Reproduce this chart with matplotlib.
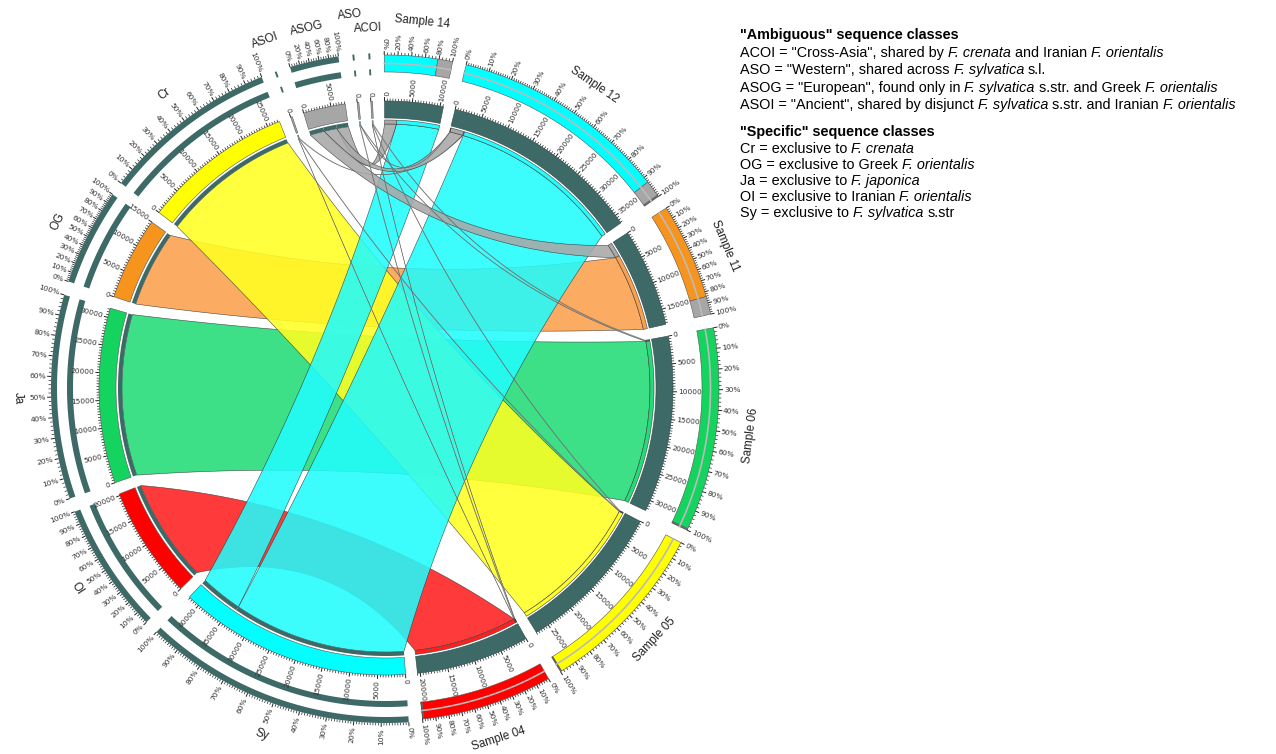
import numpy as np
import matplotlib
matplotlib.use('Agg')
import matplotlib.pyplot as plt
from matplotlib.collections import LineCollection

plt.rcParams['font.family'] = ['Liberation Sans', 'DejaVu Sans']

# --- data -------------------------------------------------------------
classes = ['Sy', 'OI', 'Ja', 'OG', 'Cr', 'ASOI', 'ASOG', 'ASO', 'ACOI']
samples = ['Sample 14', 'Sample 12', 'Sample 11', 'Sample 06', 'Sample 05', 'Sample 04']
# reads of each sequence class (rows) found in each sample (columns)
counts = np.array([
    [8300, 33900, 0, 0, 0, 0],        # Sy
    [0, 0, 0, 0, 0, 20300],           # OI
    [0, 0, 0, 31700, 0, 0],           # Ja
    [0, 0, 15000, 0, 0, 0],           # OG
    [0, 0, 0, 0, 27300, 0],           # Cr
    [0, 150, 0, 0, 100, 50],          # ASOI
    [2300, 2500, 2800, 0, 0, 0],      # ASOG
    [0, 100, 0, 100, 0, 100],         # ASO
    [0, 0, 0, 150, 100, 50],          # ACOI
])

band_colors = {'Sy': '#00ffff', 'OI': '#ff0000', 'Ja': '#14d35f', 'OG': '#f7941d',
               'Cr': '#ffff00'}
ribbon_colors = {'Sy': '#22fcfc', 'OI': '#ff1f1f', 'Ja': '#22dc76', 'OG': '#fba04c',
                 'Cr': '#ffff22'}
AMB_BAND = '#a6a6a6'
AMB_RIB = '#a8a8a8'
DARK = '#3d6966'

# *...* marks italic parts, headers are bold
legend_lines = [
    ('"Ambiguous" sequence classes', True),
    ('ACOI = "Cross-Asia", shared by *F. crenata* and Iranian *F. orientalis*', False),
    ('ASO = "Western", shared across *F. sylvatica* s.l.', False),
    ('ASOG = "European", found only in *F. sylvatica* s.str. and Greek *F. orientalis*', False),
    ('ASOI = "Ancient", shared by disjunct *F. sylvatica* s.str. and Iranian *F. orientalis*', False),
    ('"Specific" sequence classes', True),
    ('Cr = exclusive to *F. crenata*', False),
    ('OG = exclusive to Greek *F. orientalis*', False),
    ('Ja = exclusive to *F. japonica*', False),
    ('OI = exclusive to Iranian *F. orientalis*', False),
    ('Sy = exclusive to *F. sylvatica* s.str', False),
]
legend_y = [35, 53, 70, 88, 105, 132, 149, 165, 181, 197, 213]

# --- layout -----------------------------------------------------------
cx, cy = 386, 388
R_RIB = 264
R_STRIP = (264, 268)
R_BAND = (270, 287)
R_RING1 = (313, 319)
R_RING2 = (329, 335)
R_PCT = (316, 333)
R_NAME = 368
name_r_shift = {'ASO': 7, 'ACOI': -8}
GAP = 2.4
START = -0.3

order = samples + classes
sizes = list(counts.sum(axis=0)) + list(counts.sum(axis=1))
deg_per = (360 - GAP * len(order)) / float(sum(sizes))
seg = {}
t = START
for name, s in zip(order, sizes):
    seg[name] = (t, t + s * deg_per, s)
    t += s * deg_per + GAP


def xy(theta, r):
    a = np.radians(theta)
    return cx + r * np.sin(a), cy - r * np.cos(a)


fig = plt.figure(figsize=(12.76, 7.54), dpi=100)
ax = fig.add_axes([0, 0, 1, 1])
ax.set_xlim(0, 1276)
ax.set_ylim(754, 0)
ax.axis('off')


def sector(t1, t2, r1, r2, **kw):
    n = max(int(abs(t2 - t1) * 4), 2)
    th = np.linspace(t1, t2, n)
    xo, yo = xy(th, r2)
    xi, yi = xy(th[::-1], r1)
    ax.fill(np.concatenate([xo, xi]), np.concatenate([yo, yi]), **kw)


def bezier(p0, p2, k=0.7, n=80):
    mx, my = (p0[0] + p2[0]) / 2, (p0[1] + p2[1]) / 2
    c = (cx + k * (mx - cx), cy + k * (my - cy))
    s = np.linspace(0, 1, n)
    x = (1 - s) ** 2 * p0[0] + 2 * (1 - s) * s * c[0] + s ** 2 * p2[0]
    y = (1 - s) ** 2 * p0[1] + 2 * (1 - s) * s * c[1] + s ** 2 * p2[1]
    return x, y


# ribbon end positions: samples list classes in reverse, classes list samples in reverse
cls_pos = {}
for i, c in enumerate(classes):
    t = seg[c][0]
    for j in reversed(range(len(samples))):
        w = counts[i, j] * deg_per
        if w > 0:
            cls_pos[(i, j)] = (t, t + w)
            t += w
smp_pos = {}
for j, s in enumerate(samples):
    t = seg[s][0]
    for i in reversed(range(len(classes))):
        w = counts[i, j] * deg_per
        if w > 0:
            smp_pos[(i, j)] = (t, t + w)
            t += w


def rib_color(c):
    return ribbon_colors.get(c, AMB_RIB)


def band_color(c):
    return band_colors.get(c, AMB_BAND)


draw_order = ['Ja', 'OG', 'Cr', 'OI', 'Sy', 'ASOI', 'ASOG', 'ASO', 'ACOI']
for c in draw_order:
    i = classes.index(c)
    for j in range(len(samples)):
        if counts[i, j] == 0:
            continue
        a1, a2 = cls_pos[(i, j)]
        b1, b2 = smp_pos[(i, j)]
        thin = counts[i, j] < 1000
        xa, ya = xy(np.linspace(a1, a2, 30), R_RIB)
        xb, yb = xy(np.linspace(b1, b2, 30), R_RIB)
        x1, y1 = bezier((xa[-1], ya[-1]), (xb[0], yb[0]))
        x2, y2 = bezier((xb[-1], yb[-1]), (xa[0], ya[0]))
        ax.fill(np.concatenate([xa, x1, xb, x2]), np.concatenate([ya, y1, yb, y2]),
                facecolor=rib_color(c), alpha=0.8 if thin else 0.88,
                edgecolor='#6a6a6a' if thin else '#333333',
                linewidth=0.35 if thin else 0.4, zorder=2)
        # thin strips where ribbons meet the segments
        sector(a1, a2, *R_STRIP, facecolor=DARK, edgecolor='none', zorder=3)
        sector(b1, b2, *R_STRIP, facecolor=rib_color(c), edgecolor='#444444',
               linewidth=0.4, zorder=3)

ticks_minor = []
ticks_major = []


def radial_label(theta, r, text, size):
    rot = (90 - theta) % 360
    if rot > 180:
        rot -= 360
    ha = 'left'
    if rot < -90 or rot > 90:
        rot += 180
        ha = 'right'
    x, y = xy(theta, r)
    ax.text(x, y, text, rotation=rot, rotation_mode='anchor', ha=ha, va='center',
            fontsize=size, family='DejaVu Sans', color='#333333', zorder=5)


def count_ticks(name, r):
    t1, t2, s = seg[name]
    for v in np.arange(0, s + 1, 500):
        th = t1 + v * deg_per
        major = v % 5000 == 0
        (ticks_major if major else ticks_minor).append(
            [xy(th, r), xy(th, r + (4 if major else 2.5))])
        if major:
            radial_label(th, r + 5, '%d' % v, 5.3)


def pct_ticks(name, r):
    t1, t2, s = seg[name]
    span = t2 - t1
    if span < 2:
        return
    step_lab = 20 if span < 12 else 10
    step_min = 1 if span > 40 else (2 if span > 14 else 5)
    for p in range(0, 101, step_min):
        th = t1 + span * p / 100.0
        major = p % step_lab == 0
        (ticks_major if major else ticks_minor).append(
            [xy(th, r), xy(th, r + (4 if major else 2.5))])
        if major:
            radial_label(th, r + 5, '%d%%' % p, 5.4)


def seg_name(name):
    t1, t2, s = seg[name]
    th = (t1 + t2) / 2
    rot = (-th) % 360
    if rot > 180:
        rot -= 360
    if rot < -90 or rot > 90:
        rot += 180
    x, y = xy(th, R_NAME + name_r_shift.get(name, 0))
    ax.text(x, y, name, rotation=rot, rotation_mode='anchor', ha='center',
            va='center', fontsize=8.4, color='#222222', zorder=5)


# sample segments
for j, s in enumerate(samples):
    t1, t2, size = seg[s]
    sector(t1, t2, *R_BAND, facecolor=DARK, edgecolor='#2a4b49', linewidth=0.4, zorder=3)
    count_ticks(s, R_BAND[1])
    # composition ring, biggest share first
    idx = sorted([i for i in range(len(classes)) if counts[i, j] > 0],
                 key=lambda i: -counts[i, j])
    t = t1
    for i in idx:
        w = counts[i, j] * deg_per
        sector(t, t + w, *R_PCT, facecolor=band_color(classes[i]),
               edgecolor='#555555', linewidth=0.4, zorder=3)
        t += w
    th = np.linspace(t1, t2, 100)
    mx, my = xy(th, (R_PCT[0] + R_PCT[1]) / 2)
    ax.plot(mx, my, color='#bbbbbb', lw=1.2, zorder=4)
    pct_ticks(s, R_PCT[1])
    seg_name(s)

# class segments
for i, c in enumerate(classes):
    t1, t2, size = seg[c]
    sector(t1, t2, *R_BAND, facecolor=band_color(c), edgecolor='#555555',
           linewidth=0.4, zorder=3)
    count_ticks(c, R_BAND[1])
    sector(t1, t2, *R_RING1, facecolor=DARK, edgecolor='none', zorder=3)
    sector(t1, t2, *R_RING2, facecolor=DARK, edgecolor='none', zorder=3)
    pct_ticks(c, R_RING2[1])
    seg_name(c)

ax.add_collection(LineCollection(ticks_minor, colors='#222222', linewidths=0.5, zorder=4))
ax.add_collection(LineCollection(ticks_major, colors='#222222', linewidths=0.7, zorder=4))

# legend text, pieces placed one after another so italics keep normal spacing
renderer = fig.canvas.get_renderer()
LEG_FS = 10.4


def text_width(s, **kw):
    tt = ax.text(0, 0, s, fontsize=LEG_FS, **kw)
    w = tt.get_window_extent(renderer).width
    tt.remove()
    return w


space_w = text_width('a a') - text_width('aa')
for (line, bold), y in zip(legend_lines, legend_y):
    x = 740
    for k, part in enumerate(line.split('*')):
        if not part:
            continue
        kw = dict(fontsize=LEG_FS, color='black',
                  fontweight='bold' if bold else 'normal',
                  style='italic' if k % 2 else 'normal')
        if part.startswith(' '):
            x += space_w
        core = part.strip()
        tt = ax.text(x, y + 4, core, ha='left', va='baseline', **kw)
        x += tt.get_window_extent(renderer).width
        if part.endswith(' '):
            x += space_w

fig.savefig('out.png', dpi=100)
